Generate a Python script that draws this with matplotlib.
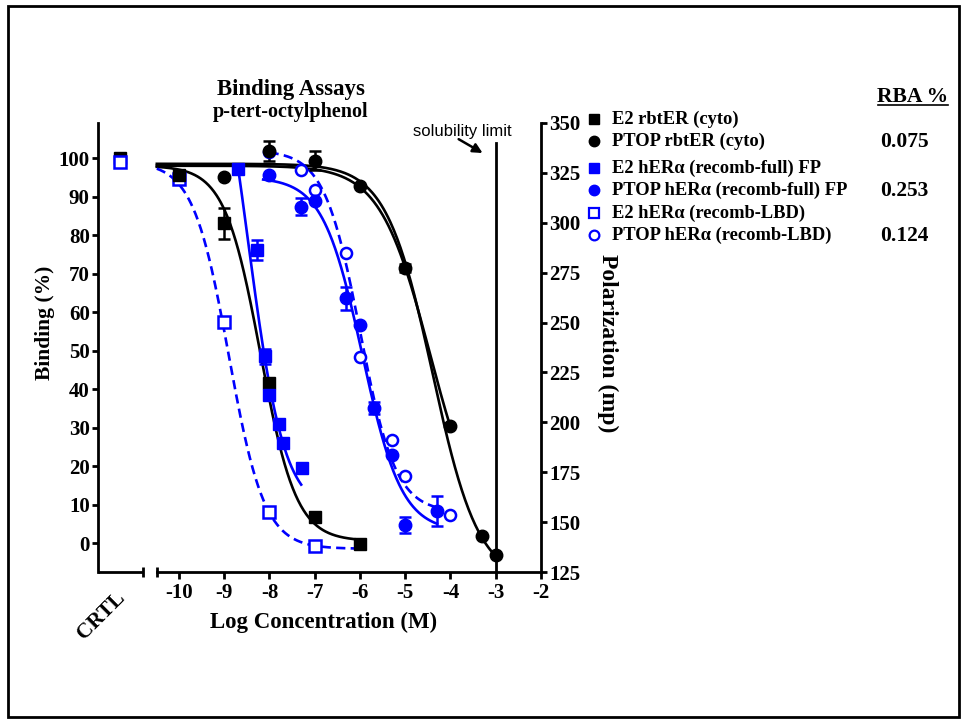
import numpy as np
import matplotlib
matplotlib.use("Agg")
import matplotlib.pyplot as plt
from matplotlib.lines import Line2D
from matplotlib.patches import Rectangle

plt.rcParams['font.family'] = ['Liberation Serif', 'DejaVu Serif']
plt.rcParams['font.weight'] = 'bold'

# ---------------- data ----------------
x_ticks = [-10, -9, -8, -7, -6, -5, -4, -3, -2]
x_tick_labels = ["-10", "-9", "-8", "-7", "-6", "-5", "-4", "-3", "-2"]
left_ticks = [0, 10, 20, 30, 40, 50, 60, 70, 80, 90, 100]
right_ticks = [125, 150, 175, 200, 225, 250, 275, 300, 325, 350]

ctrl_e2_rbt = 100.0
ctrl_e2_rbt_err = 1.0
ctrl_e2_lbd = 99.0

e2_rbt_x = [-10, -9, -8, -7, -6]
e2_rbt_y = [95.5, 83.0, 41.5, 6.8, -0.3]
e2_rbt_err = [0, 4.0, 0, 0, 0]

ptop_rbt_x = [-9, -8, -7, -6, -5, -4, -3.3, -3]
ptop_rbt_y = [95.0, 101.8, 99.3, 92.7, 71.4, 30.4, 1.8, -3.1]
ptop_rbt_err = [0, 2.5, 2.5, 0, 1.0, 0, 0, 0]

e2_full_x = [-8.7, -8.28, -8.1, -8.0, -7.8, -7.7, -7.28]
e2_full_y = [97.1, 76.0, 48.5, 38.5, 31.0, 26.0, 19.5]
e2_full_err = [0, 2.6, 2.0, 0, 0, 0, 0]

ptop_full_x = [-8, -7.3, -7, -6.3, -6, -5.7, -5.3, -5, -4.3]
ptop_full_y = [95.6, 87.3, 88.8, 63.6, 56.6, 35.1, 22.9, 4.7, 8.3]
ptop_full_err = [0, 2.2, 0, 3.0, 0, 1.6, 0, 2.0, 3.8]

e2_lbd_x = [-10, -9, -8, -7]
e2_lbd_y = [94.5, 57.4, 8.1, -0.8]

ptop_lbd_x = [-8, -7.3, -7, -6.3, -6, -5.3, -5, -4]
ptop_lbd_y = [101.5, 97.0, 91.7, 75.3, 48.3, 26.8, 17.4, 7.3]

# fitted curve parameters: top, bottom, logIC50, hill, x start, x end
fit_e2_rbt = [98.0, 0.5, -8.2, 1.1, -10.49, -6.0]
fit_ptop_rbt_a = [98.0, 0.0, -4.45, 0.785, -10.49, -4.0]
fit_ptop_rbt_b = [98.5, -10.0, -4.4, 0.85, -10.49, -3.0]
fit_e2_full = [150.0, 8.0, -8.48, 1.08, -8.7, -7.3]
fit_ptop_full = [95.0, 3.0, -5.95, 1.0, -8.14, -4.3]
fit_e2_lbd = [99.0, -1.5, -8.9, 1.1, -10.49, -6.0]
fit_ptop_lbd = [102.0, 8.0, -6.0, 1.1, -8.0, -4.35]

legend_labels = ["E2 rbtER (cyto)", "PTOP rbtER (cyto)",
                 "E2 hERα (recomb-full) FP", "PTOP hERα (recomb-full) FP",
                 "E2 hERα (recomb-LBD)", "PTOP hERα (recomb-LBD)"]
rba_values = ["0.075", "0.253", "0.124"]

# ---------------- layout helpers ----------------
W, H = 964, 721
def fx(px):
    return px / W
def fy(py):
    return 1 - py / H

BLUE = "#0000ff"
CTRL_X = -11.3
XMIN, XMAX = -11.79, -2.0
BREAK_L, BREAK_R = -10.79, -10.49

fig = plt.figure(figsize=(W / 100, H / 100), dpi=100)
ax = fig.add_axes([fx(98), fy(572), (541 - 98) / W, (572 - 123) / H])
ax.set_xlim(XMIN, XMAX)
ax.set_ylim(-7.53, 109.1)
ax2 = ax.twinx()
ax2.set_ylim(125, 350)

def four_pl(params):
    top, bottom, c, h, x0, x1 = params
    xs = np.linspace(x0, x1, 300)
    return xs, bottom + (top - bottom) / (1 + 10 ** (h * (xs - c)))

LW = 1.9
dash = (0, (3.5, 2.0))
for params, col, ls in [(fit_e2_rbt, 'black', '-'), (fit_ptop_rbt_a, 'black', '-'),
                        (fit_ptop_rbt_b, 'black', '-'), (fit_e2_full, BLUE, '-'),
                        (fit_ptop_full, BLUE, '-'), (fit_e2_lbd, BLUE, dash),
                        (fit_ptop_lbd, BLUE, dash)]:
    xs, ys = four_pl(params)
    ax.plot(xs, ys, color=col, lw=LW, linestyle=ls, zorder=3)

MS = 8
eb = dict(capsize=4.5, elinewidth=1.8, capthick=1.8, linestyle='none', zorder=5)
ax.errorbar(ptop_lbd_x, ptop_lbd_y, marker='o', ms=MS, mfc='white', mec=BLUE,
            mew=1.8, color=BLUE, **eb)
ax.errorbar(e2_lbd_x, e2_lbd_y, marker='s', ms=MS, mfc='white', mec=BLUE,
            mew=1.8, color=BLUE, **eb)
ax.errorbar([CTRL_X], [ctrl_e2_rbt], yerr=[ctrl_e2_rbt_err], marker='s', ms=MS,
            color='black', **eb)
ax.errorbar([CTRL_X], [ctrl_e2_lbd], marker='s', ms=MS, mfc='white', mec=BLUE,
            mew=1.8, color=BLUE, **eb)
ax.errorbar(e2_rbt_x, e2_rbt_y, yerr=e2_rbt_err, marker='s', ms=MS, color='black', **eb)
ax.errorbar(ptop_rbt_x, ptop_rbt_y, yerr=ptop_rbt_err, marker='o', ms=MS + 1,
            color='black', **eb)
ax.errorbar(e2_full_x, e2_full_y, yerr=e2_full_err, marker='s', ms=MS, color=BLUE, **eb)
ax.errorbar(ptop_full_x, ptop_full_y, yerr=ptop_full_err, marker='o', ms=MS + 1,
            color=BLUE, **eb)

# solubility limit
ax.axvline(-3, ymin=0, ymax=(572 - 143) / (572 - 123), color='black', lw=2.0, zorder=4)
ax.annotate("", xy=(-3.29, 101.3), xytext=(-3.82, 104.9),
            arrowprops=dict(arrowstyle='-|>', color='black', lw=1.8,
                            mutation_scale=14, shrinkA=0, shrinkB=0))
ax.text(-3.73, 107.0, "solubility limit", family=['Liberation Sans', 'DejaVu Sans'],
        fontweight='normal', fontsize=12, ha='center', va='center')

# axes styling
SP = 2.0
for s in ['top', 'right']:
    ax.spines[s].set_visible(False)
for s in ['top', 'left', 'bottom']:
    ax2.spines[s].set_visible(False)
ax.spines['left'].set_linewidth(SP)
ax.spines['bottom'].set_linewidth(SP)
ax2.spines['right'].set_linewidth(SP)
ax.spines['bottom'].set_bounds(BREAK_R, XMAX)

xt = ax.get_xaxis_transform()
ax.plot([XMIN, BREAK_L], [0, 0], transform=xt, color='black', lw=SP,
        clip_on=False, solid_capstyle='butt')
for bx in [BREAK_L, BREAK_R]:
    ax.plot([bx, bx], [-0.011, 0.011], transform=xt, color='black', lw=SP,
            clip_on=False, solid_capstyle='butt')

TFS = 15
ax.set_xticks(x_ticks, labels=x_tick_labels)
ax.set_yticks(left_ticks)
ax2.set_yticks(right_ticks)
ax.tick_params(axis='x', direction='out', length=5, width=SP, labelsize=TFS, pad=3)
ax.tick_params(axis='y', direction='out', length=4, width=SP, labelsize=TFS, pad=2)
ax2.tick_params(axis='y', direction='out', length=4, width=SP, labelsize=TFS, pad=2)
for lab in ax.get_xticklabels() + ax.get_yticklabels() + ax2.get_yticklabels():
    lab.set_fontweight('bold')

# labels
fig.text(fx(45), fy(323), "Binding (%)", rotation=90, fontsize=15.5,
         ha='center', va='center')
fig.text(fx(608), fy(343), "Polarization (mp)", rotation=270, fontsize=17,
         ha='center', va='center')
fig.text(fx(324), fy(622), "Log Concentration (M)", fontsize=16.5,
         ha='center', va='center')
fig.text(fx(101), fy(616), "CRTL", rotation=45, fontsize=15.5,
         ha='center', va='center')
fig.text(fx(291), fy(89), "Binding Assays", fontsize=16.5, ha='center', va='center')
fig.text(fx(291), fy(112), "p-tert-octylphenol", fontsize=14.5, ha='center', va='center')

# legend
leg_rows = [119, 141, 168, 190, 213, 235]
leg_styles = [dict(marker='s', color='black', mfc='black', mec='black', ms=7),
              dict(marker='o', color='black', mfc='black', mec='black', ms=7.5),
              dict(marker='s', color=BLUE, mfc=BLUE, mec=BLUE, ms=7),
              dict(marker='o', color=BLUE, mfc=BLUE, mec=BLUE, ms=7.5),
              dict(marker='s', color=BLUE, mfc='white', mec=BLUE, ms=7, mew=1.6),
              dict(marker='o', color=BLUE, mfc='white', mec=BLUE, ms=7, mew=1.6)]
for row, lab, st in zip(leg_rows, legend_labels, leg_styles):
    fig.add_artist(Line2D([fx(594)], [fy(row)], linestyle='none',
                          transform=fig.transFigure, **st))
    fig.text(fx(612), fy(row), lab, fontsize=13.3, ha='left', va='center')

fig.text(fx(913), fy(97), "RBA %", fontsize=15.5, ha='center', va='center')
fig.add_artist(Line2D([fx(878), fx(948)], [fy(105), fy(105)], color='black',
                      lw=1.2, transform=fig.transFigure))
for row, val in zip([leg_rows[1], leg_rows[3], leg_rows[5]], rba_values):
    fig.text(fx(904), fy(row + 1), val, fontsize=15.5, ha='center', va='center')

# figure border
fig.add_artist(Rectangle((fx(8), fy(717)), (959 - 8) / W, (717 - 6) / H,
                         transform=fig.transFigure, fill=False, lw=2, ec='black'))

fig.savefig("out.png", dpi=100)
